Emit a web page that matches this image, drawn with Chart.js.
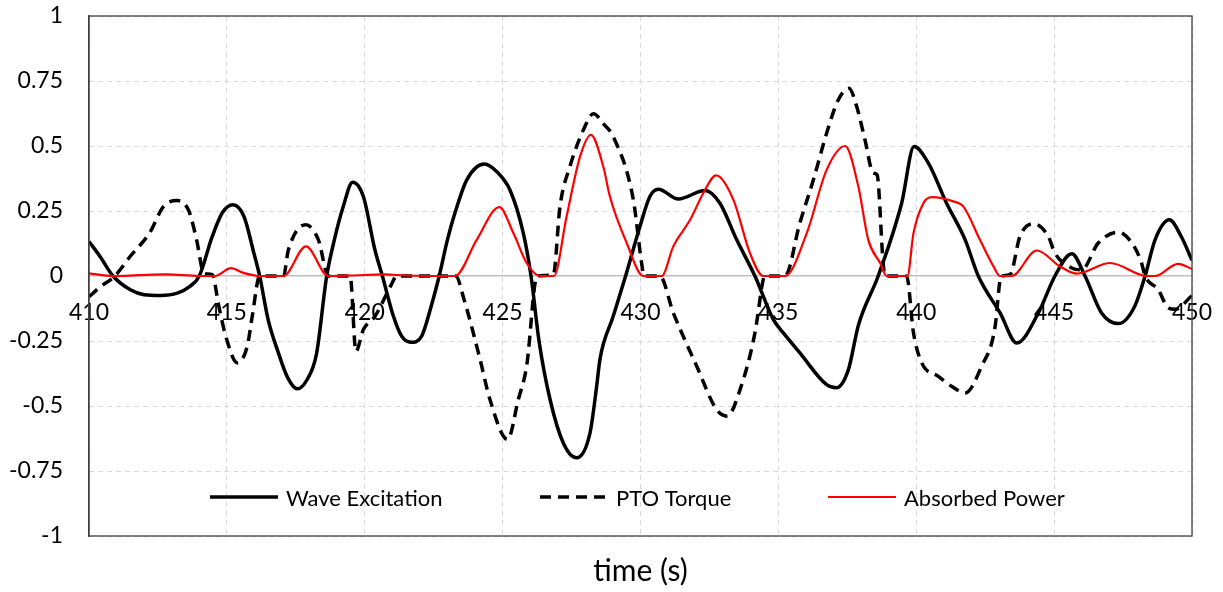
<!DOCTYPE html>
<html><head><meta charset="utf-8">
<script src="https://cdn.jsdelivr.net/npm/chart.js@4.4.1/dist/chart.umd.min.js"></script>
<style>html,body{margin:0;padding:0;background:#fff;}canvas{display:block;}</style>
</head><body>
<canvas id="c" width="1223" height="592"></canvas>
<script>
const xTickValues = [410,415,420,425,430,435,440,445,450];
const xTickLabels = ['410','415','420','425','430','435','440','445','450'];
const yTickValues = [-1,-0.75,-0.5,-0.25,0,0.25,0.5,0.75,1];
const yTickLabels = ['-1','-0.75','-0.5','-0.25','0','0.25','0.5','0.75','1'];
const seriesNames = ['Wave Excitation','PTO Torque','Absorbed Power'];
const axisTitle = 'time (s)';

const timeWave = [410,410.4,410.87,411.5,412.0,412.6,413.2,413.66,414.0,414.47,414.84,415.22,415.62,415.98,416.19,416.5,416.85,417.2,417.55,417.9,418.25,418.62,418.9,419.22,419.56,419.95,420.37,420.64,421.04,421.34,421.68,422.06,422.4,422.7,423.0,423.27,423.7,424.34,424.8,425.27,425.75,426.03,426.32,426.72,427.2,427.68,428.17,428.41,428.53,429.01,429.46,429.98,430.34,430.65,431.37,432.34,432.88,433.49,434.15,434.82,435.18,435.78,436.75,437.1,437.54,437.9,438.62,439.47,439.92,440.44,441.1,441.77,442.25,443.04,443.65,444.43,445.03,445.64,446.12,446.72,447.33,447.92,448.3,448.66,449.18,449.61,450];
const waveExc = [0.133,0.075,0,-0.053,-0.072,-0.075,-0.066,-0.04,0,0.152,0.244,0.274,0.229,0.088,0,-0.17,-0.29,-0.39,-0.434,-0.40,-0.30,0,0.14,0.267,0.361,0.306,0.1,0,-0.155,-0.232,-0.255,-0.232,-0.12,0,0.14,0.242,0.37,0.431,0.4,0.33,0.165,0,-0.25,-0.475,-0.642,-0.699,-0.603,-0.424,-0.32,-0.155,0,0.19,0.306,0.334,0.296,0.329,0.28,0.139,0,-0.168,-0.219,-0.296,-0.418,-0.43,-0.36,-0.19,0,0.28,0.498,0.434,0.28,0.14,0,-0.142,-0.258,-0.142,0,0.086,0,-0.142,-0.183,-0.117,0,0.139,0.216,0.152,0.06];

const timePTO = [410,410.4,410.94,411.49,412.2,412.7,413.2,413.63,413.9,414.17,414.47,414.71,414.96,415.38,415.74,415.92,416.19,417.05,417.23,417.86,418.32,418.68,419.47,419.68,419.95,420.37,420.98,421.15,423.3,423.6,424.18,424.54,425.18,425.57,425.87,426.25,426.84,427.08,427.44,427.93,428.29,428.7,429.01,429.74,430.04,430.13,430.7,431.19,432.04,432.76,433.15,433.61,434.15,434.45,434.5,435.24,435.78,436.27,436.75,437.17,437.56,437.84,438.14,438.44,438.58,438.8,438.87,439.65,439.9,440.2,440.8,441.28,441.77,442.37,442.86,443.04,443.1,443.4,443.76,444.25,444.79,445.03,445.64,446.0,446.6,447.33,447.9,448.17,448.3,448.78,449.14,449.4,450];
const ptoTorque = [-0.08,-0.042,0,0.075,0.166,0.267,0.29,0.248,0.14,0.01,0.005,-0.117,-0.232,-0.334,-0.27,-0.155,0,0,0.1,0.197,0.139,0,0,-0.29,-0.206,-0.155,-0.03,0,0,-0.09,-0.32,-0.475,-0.629,-0.475,-0.347,0,0.005,0.267,0.421,0.562,0.624,0.58,0.536,0.293,0.05,0,0,-0.142,-0.347,-0.514,-0.539,-0.437,-0.219,-0.014,0,0,0.204,0.37,0.549,0.677,0.722,0.652,0.524,0.396,0.389,0.05,0,0,-0.219,-0.334,-0.386,-0.424,-0.45,-0.347,-0.194,-0.014,0,0.005,0.152,0.201,0.152,0.088,0.031,0.024,0.127,0.168,0.114,0.05,0,-0.053,-0.123,-0.128,-0.075];

const timePower = [410,410.87,411.8,412.8,414.0,414.57,415.15,415.6,416.2,417.05,417.87,418.68,419.5,420.7,421.5,423.27,424.06,424.88,425.39,425.87,426.36,426.86,427.32,427.81,428.2,428.65,428.89,429.5,430.1,430.77,431.19,431.8,432.28,432.74,433.37,433.97,434.45,435.24,436.03,436.75,437.42,437.9,438.26,438.69,438.93,439.68,439.9,440.26,440.56,441.34,441.71,442.31,442.8,443.04,443.46,444.37,445.21,445.82,447.03,448.36,448.66,449.5,450];
const absPower = [0.01,0,0.003,0.006,0,0,0.03,0.012,0,0,0.114,0,0.002,0.006,0.002,0,0.139,0.265,0.165,0.05,0,0,0.229,0.46,0.543,0.421,0.306,0.127,0,0,0.114,0.216,0.319,0.387,0.293,0.088,0,0,0.165,0.408,0.5,0.344,0.139,0.05,0,0,0.165,0.28,0.303,0.287,0.267,0.139,0.037,0,0,0.098,0.037,0.009,0.05,0,0,0.047,0.027];

function pts(xs, ys){ return xs.map((x,i)=>({x:x, y:ys[i]})); }

const FONT = 'Lato, "Open Sans", sans-serif';

const legendPlugin = {
  id: 'insideLegend',
  afterDraw(chart){
    const ctx = chart.ctx;
    const area = chart.chartArea;
    const y = area.bottom - 39;
    const starts = [210, 540, 828];
    ctx.save();
    chart.data.datasets.forEach((ds, i) => {
      const x0 = starts[i];
      ctx.beginPath();
      ctx.strokeStyle = ds.borderColor;
      ctx.lineWidth = ds.borderWidth;
      ctx.setLineDash(ds.borderDash || []);
      ctx.lineCap = 'butt';
      ctx.moveTo(x0, y);
      ctx.lineTo(x0 + 68, y);
      ctx.stroke();
      ctx.setLineDash([]);
      ctx.fillStyle = '#000';
      ctx.font = '22px ' + FONT;
      ctx.textBaseline = 'middle';
      ctx.textAlign = 'left';
      ctx.fillText(ds.label, x0 + 76, y + 2);
    });
    ctx.restore();
  }
};

const framePlugin = {
  id: 'frame',
  afterDatasetsDraw(chart){
    const a = chart.chartArea;
    const ctx = chart.ctx;
    ctx.save();
    ctx.strokeStyle = '#404040';
    ctx.lineWidth = 1.3;
    ctx.strokeRect(a.left, a.top, a.right - a.left, a.bottom - a.top);
    ctx.restore();
  }
};

function zeroPad(scale){ scale.paddingTop = 0; scale.paddingBottom = 0; scale.paddingLeft = 0; scale.paddingRight = 0; }

new Chart(document.getElementById('c'), {
  type: 'line',
  data: {
    datasets: [
      { label: seriesNames[0], data: pts(timeWave, waveExc), borderColor: '#000000', borderWidth: 3.5, pointRadius: 0, cubicInterpolationMode: 'monotone', fill: false, order: 2 },
      { label: seriesNames[1], data: pts(timePTO, ptoTorque), borderColor: '#000000', borderWidth: 3.5, borderDash: [11, 7], pointRadius: 0, cubicInterpolationMode: 'monotone', fill: false, order: 1 },
      { label: seriesNames[2], data: pts(timePower, absPower), borderColor: '#ff0000', borderWidth: 2.2, pointRadius: 0, cubicInterpolationMode: 'monotone', fill: false, order: 0 }
    ]
  },
  options: {
    responsive: false,
    animation: false,
    events: [],
    layout: { padding: { left: 0, right: 31, top: 16, bottom: 0 } },
    plugins: {
      legend: { display: false },
      tooltip: { enabled: false },
      title: { display: true, fullSize: false, position: 'bottom', text: axisTitle, color: '#000', font: { family: FONT, size: 30, weight: 'normal' }, padding: { top: 17, bottom: 3 } }
    },
    scales: {
      x: {
        type: 'linear', min: 410, max: 450,
        position: { y: 0 },
        afterBuildTicks(scale){ scale.ticks = xTickValues.map(v => ({ value: v })); },
        afterFit: zeroPad,
        ticks: { color: '#000', font: { family: FONT, size: 23 }, padding: 23, maxRotation: 0, autoSkip: false, callback: (v, i) => xTickLabels[i] },
        grid: { color: '#d9d9d9', lineWidth: 1, drawTicks: false },
        border: { display: true, color: '#bfbfbf', width: 1.5, dash: (ctx) => (ctx.type === 'tick' ? [5, 4] : []) }
      },
      y: {
        type: 'linear', min: -1, max: 1,
        afterBuildTicks(scale){ scale.ticks = yTickValues.map(v => ({ value: v })); },
        afterFit(scale){ scale.width = 89; zeroPad(scale); },
        ticks: { color: '#000', font: { family: FONT, size: 23 }, padding: 26, autoSkip: false, callback: (v, i) => yTickLabels[i] },
        grid: { color: (ctx) => (ctx.tick && ctx.tick.value === 0 ? 'rgba(0,0,0,0)' : '#d9d9d9'), lineWidth: 1, drawTicks: false },
        border: { display: true, color: '#404040', width: 1.3, dash: (ctx) => (ctx.type === 'tick' ? [5, 4] : []) }
      }
    }
  },
  plugins: [framePlugin, legendPlugin]
});
</script>
</body></html>
